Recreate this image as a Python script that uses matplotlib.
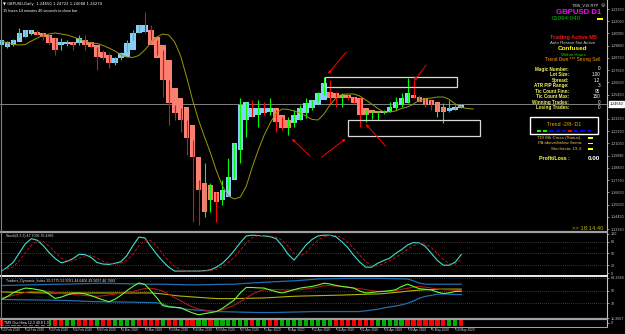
import matplotlib
matplotlib.use("Agg")
import matplotlib.pyplot as plt
from matplotlib.patches import Rectangle
from matplotlib.lines import Line2D

# ---- data ----
ha_open = [1.2995, 1.2977, 1.2995, 1.3022, 1.3067, 1.3094, 1.3112, 1.3103, 1.3085, 1.3058,
           1.2995, 1.3004, 1.3022, 1.3013, 1.3040, 1.3022, 1.2995, 1.2932, 1.2905, 1.2833,
           1.2878, 1.2887, 1.2950, 1.3103, 1.3112, 1.3130, 1.3067, 1.2995, 1.2860, 1.2608,
           1.2518, 1.2437, 1.2275, 1.1987, 1.1753, 1.1735, 1.1672, 1.1600, 1.1627, 1.1780,
           1.2050, 1.2320, 1.2347, 1.2365, 1.2383, 1.2392, 1.2428, 1.2365, 1.2320, 1.2293,
           1.2320, 1.2383, 1.2428, 1.2455, 1.2500, 1.2572, 1.2563, 1.2545, 1.2545, 1.2527,
           1.2518, 1.2428, 1.2410, 1.2401, 1.2383, 1.2392, 1.2428, 1.2455, 1.2473, 1.2545,
           1.2527, 1.2518, 1.2500, 1.2482, 1.2437, 1.2401, 1.2410, 1.2428]
ha_close = [1.3040, 1.3022, 1.3040, 1.3103, 1.3130, 1.3130, 1.3085, 1.3067, 1.3013, 1.2950,
            1.3022, 1.3022, 1.2995, 1.3058, 1.2995, 1.2977, 1.2887, 1.2878, 1.2833, 1.2878,
            1.2923, 1.3013, 1.3103, 1.3175, 1.3175, 1.2995, 1.2878, 1.2680, 1.2473, 1.2383,
            1.2320, 1.2158, 1.1987, 1.1690, 1.1492, 1.1600, 1.1582, 1.1690, 1.1807, 1.2113,
            1.2455, 1.2482, 1.2428, 1.2428, 1.2428, 1.2428, 1.2302, 1.2248, 1.2248, 1.2365,
            1.2428, 1.2473, 1.2500, 1.2563, 1.2653, 1.2518, 1.2518, 1.2518, 1.2518, 1.2473,
            1.2365, 1.2365, 1.2383, 1.2383, 1.2401, 1.2437, 1.2482, 1.2518, 1.2563, 1.2518,
            1.2482, 1.2455, 1.2455, 1.2392, 1.2392, 1.2428, 1.2437, 1.2455]
bar_high = [1.3058, 1.3031, 1.3049, 1.3148, 1.3130, 1.3130, 1.3130, 1.3103, 1.3085, 1.3058,
            1.3058, 1.3040, 1.3022, 1.3085, 1.3085, 1.3022, 1.2977, 1.2950, 1.2923, 1.2887,
            1.2932, 1.3040, 1.3130, 1.3175, 1.3292, 1.3175, 1.3040, 1.2950, 1.2680, 1.2455,
            1.2428, 1.2320, 1.2140, 1.1780, 1.1933, 1.1753, 1.1672, 1.1780, 1.1978, 1.2113,
            1.2518, 1.2482, 1.2500, 1.2500, 1.2482, 1.2518, 1.2410, 1.2347, 1.2347, 1.2410,
            1.2455, 1.2518, 1.2500, 1.2572, 1.2707, 1.2680, 1.2572, 1.2563, 1.2545, 1.2527,
            1.2518, 1.2410, 1.2410, 1.2401, 1.2410, 1.2482, 1.2527, 1.2563, 1.2698, 1.2680,
            1.2545, 1.2518, 1.2500, 1.2482, 1.2473, 1.2500, 1.2455, 1.2455]
bar_low = [1.2932, 1.2968, 1.2986, 1.3067, 1.3067, 1.3085, 1.3085, 1.3040, 1.2995, 1.2905,
           1.2950, 1.2986, 1.2950, 1.2995, 1.2950, 1.2968, 1.2770, 1.2860, 1.2788, 1.2815,
           1.2860, 1.2932, 1.3040, 1.3103, 1.3103, 1.3040, 1.2905, 1.2527, 1.2275, 1.2320,
           1.2212, 1.2005, 1.1402, 1.1375, 1.1447, 1.1492, 1.1402, 1.1555, 1.1690, 1.1798,
           1.1933, 1.2167, 1.2347, 1.2257, 1.2365, 1.2365, 1.2212, 1.2230, 1.2185, 1.2257,
           1.2320, 1.2338, 1.2410, 1.2482, 1.2545, 1.2473, 1.2437, 1.2437, 1.2500, 1.2473,
           1.2257, 1.2302, 1.2329, 1.2320, 1.2374, 1.2392, 1.2410, 1.2437, 1.2473, 1.2518,
           1.2482, 1.2437, 1.2410, 1.2347, 1.2293, 1.2392, 1.2410, 1.2428]
bar_up = "GGGGGGRRRRGGRGRRRRRGGGGGRRRRRRRRRRGGRGGGGGRGRGRRGGGGGGGRRGRRRGGGGGGGGRRRRGGGG"
bar_up += "G"
ma_line = [1.3031, 1.3013, 1.3000, 1.2995, 1.3000, 1.3031, 1.3058, 1.3081, 1.3094, 1.3103,
           1.3094, 1.3085, 1.3067, 1.3049, 1.3027, 1.3013, 1.3009, 1.2991, 1.2968, 1.2941,
           1.2905, 1.2887, 1.2883, 1.2901, 1.2950, 1.3013, 1.3067, 1.3094, 1.3085, 1.3022,
           1.2896, 1.2707, 1.2500, 1.2320, 1.2167, 1.2023, 1.1861, 1.1726, 1.1636, 1.1609,
           1.1627, 1.1726, 1.1897, 1.2050, 1.2185, 1.2293, 1.2383, 1.2419, 1.2415, 1.2401,
           1.2383, 1.2356, 1.2325, 1.2320, 1.2374, 1.2455, 1.2518, 1.2550, 1.2554, 1.2554,
           1.2536, 1.2500, 1.2464, 1.2424, 1.2392, 1.2392, 1.2401, 1.2424, 1.2437, 1.2464,
           1.2500, 1.2514, 1.2518, 1.2527, 1.2527, 1.2505, 1.2464, 1.2433, 1.2424, 1.2419]
bid_price = 1.2464

stoch_main = [5, 15, 28, 52, 75, 88, 84, 70, 52, 37, 26, 30, 37, 48, 47, 40, 27, 23, 22, 25,
              29, 45, 70, 92, 90, 68, 48, 30, 15, 5, 5, 5, 5, 5, 6, 8, 15, 25, 40, 58,
              78, 95, 97, 96, 95, 93, 88, 70, 48, 33, 52, 72, 86, 95, 97, 97, 93, 80, 65, 45,
              28, 15, 15, 25, 32, 38, 50, 60, 72, 78, 77, 68, 50, 32, 20, 20, 28, 47.7]
stoch_signal = [8, 10, 16, 32, 52, 72, 82, 81, 69, 53, 38, 31, 31, 38, 44, 45, 38, 30, 24, 23,
                25, 33, 48, 69, 84, 83, 69, 49, 31, 17, 8, 5, 5, 5, 5, 6, 10, 16, 27, 41,
                59, 77, 90, 96, 96, 95, 92, 84, 69, 50, 44, 52, 70, 84, 93, 96, 96, 90, 79, 63,
                46, 29, 19, 18, 24, 32, 40, 49, 61, 70, 76, 74, 65, 50, 34, 24, 23, 35.4]

tdi_upper = [57.3, 57.5, 57.7, 57.9, 58.1, 58.3, 58.5, 58.7, 58.9, 59.1,
             59.2, 59.4, 59.6, 59.8, 60.0, 60.2, 60.4, 60.6, 60.4, 60.2,
             60.0, 59.8, 59.6, 59.4, 59.2, 59.2, 59.2, 59.2, 59.0, 58.8,
             58.6, 58.4, 58.3, 58.3, 58.5, 58.7, 58.9, 59.0, 59.1, 59.2,
             59.8, 60.4, 61.0, 61.5, 62.0, 62.4, 62.8, 63.2, 63.6, 64.0,
             64.6, 65.2, 66.0, 66.6, 66.8, 67.0, 67.2, 67.4, 67.5, 67.6,
             67.6, 67.6, 67.6, 67.6, 67.4, 67.2, 67.0, 66.8, 66.6, 64.0,
             60.6, 59.2, 59.2, 59.2, 59.2, 59.2, 59.2, 59.2]
tdi_lower = [37.5, 37.4, 37.3, 37.2, 37.1, 37.0, 36.9, 36.8, 36.6, 36.4,
             36.3, 36.2, 35.8, 35.4, 35.0, 34.7, 34.5, 34.3, 34.2, 34.1,
             34.0, 33.9, 33.8, 33.6, 33.4, 33.2, 32.9, 31.0, 28.0, 26.5,
             25.0, 23.7, 23.0, 22.4, 21.8, 21.2, 20.5, 20.3, 20.1, 19.9,
             19.7, 19.5, 19.3, 19.1, 19.1, 19.1, 19.2, 19.4, 19.6, 19.8,
             20.0, 20.2, 20.4, 20.5, 20.5, 20.5, 20.5, 20.5, 20.5, 20.5,
             20.5, 21.5, 22.8, 23.7, 25.5, 27.0, 28.3, 30.0, 32.3, 35.5,
             39.5, 42.0, 43.5, 45.0, 45.4, 45.0, 44.6, 44.5]
tdi_base = [48.2, 48.0, 47.8, 47.6, 47.4, 47.2, 47.0, 46.9, 46.8, 46.8,
            46.8, 46.8, 46.8, 46.8, 46.8, 46.8, 46.8, 46.8, 46.8, 46.8,
            46.8, 46.8, 46.8, 46.8, 46.8, 46.8, 46.2, 45.4, 44.4, 43.2,
            42.4, 41.8, 41.2, 40.6, 40.0, 39.4, 38.9, 38.8, 38.8, 38.9,
            39.0, 39.2, 39.4, 39.6, 39.8, 40.2, 40.7, 41.2, 41.7, 42.1,
            42.4, 42.6, 42.8, 43.0, 43.2, 43.4, 43.6, 43.8, 44.1, 44.4,
            44.7, 45.0, 45.2, 45.4, 46.0, 46.8, 47.6, 48.4, 49.4, 50.2,
            50.8, 51.3, 51.7, 52.0, 52.3, 52.3, 52.3, 52.3]
tdi_rsi = [37.5, 42, 47, 51, 53.7, 53, 51.5, 50, 45, 39, 41, 44, 46.5, 46.5, 45.5, 43, 40, 37, 34.3, 38,
           43.5, 50, 56, 61, 59, 50, 40, 29, 27, 26.5, 26, 22, 18.5, 16, 17.5, 19, 20.5, 25, 31, 37,
           47, 54.6, 54.5, 54, 53.7, 51, 48.5, 46.8, 49, 51.5, 53.7, 55, 56, 58, 60.6, 59.5, 57.5, 56,
           55, 53.7, 49.5, 46.8, 47.5, 48.5, 49.1, 50, 51.4, 56, 59.3, 56, 52.8, 52, 51, 48, 46, 47,
           49, 49.1]
tdi_signal = [39.8, 41.5, 43.5, 45.5, 47.5, 49, 49.1, 49.1, 49.1, 47.5, 46, 45.2, 44.6, 44, 43.2,
              42.6, 42.1, 42.8, 44, 45.2, 46.4, 48, 49.1, 51, 53, 53.5, 52, 49.5, 45, 40, 36, 31,
              27, 24, 22.5, 21, 20.5, 23, 26, 29.5, 34.5, 40, 45, 49, 51.4, 51.5, 51.4, 51.2, 51,
              51.2, 51.4, 52.5, 53.7, 55, 57, 57.2, 56.5, 56, 55, 53.8, 52.8, 51.5, 50, 49.1, 49,
              49, 50, 52, 53.5, 55, 56, 55, 53.8, 52.5, 51.4, 51, 50.5, 50]

osc_state = "rrggrrgggrrggrrrgrrggggrrrrgrrgrrggrggggggrggrrgggggggggrrrrrrrgggggrrrrrrrg"
osc_state += "g"

date_labels = ["10 Feb 2020", "14 Feb 2020", "19 Feb 2020", "24 Feb 2020", "28 Feb 2020",
               "4 Mar 2020", "9 Mar 2020", "13 Mar 2020", "18 Mar 2020", "23 Mar 2020",
               "27 Mar 2020", "1 Apr 2020", "6 Apr 2020", "12 Apr 2020", "16 Apr 2020",
               "21 Apr 2020", "26 Apr 2020", "30 Apr 2020", "5 May 2020", "10 May 2020"]
price_ticks = [1.3319, 1.3209, 1.3099, 1.2989, 1.2879, 1.2769, 1.2659, 1.2549, 1.2439, 1.2329,
               1.2219, 1.2109, 1.1999, 1.1889, 1.1779, 1.1669, 1.1559, 1.1449, 1.1339]

# drawn markup on the chart: (bar_from, bar_to, price_top, price_bottom)
zones = [(54.2, 76.3, 1.2707, 1.2617), (58.1, 80.2, 1.2320, 1.2176)]
# arrows: (tail_bar, tail_price, head_bar, head_price)
arrows = [(58.0, 1.2950, 54.4, 1.2716), (71.4, 1.2833, 68.8, 1.2653),
          (52.0, 1.1978, 48.3, 1.2167), (53.2, 1.1969, 58.0, 1.2167),
          (64.6, 1.2068, 60.7, 1.2302)]

info_labels = ["Magic Number:", "Lot Size:", "Spread:", "ATR PIP Range:", "Tic Count Finn:",
               "Tic Count Max:", "Winning Trades:", "Losing Trades:"]
info_values = ["0", "1.00", "1.2", "3", "95", "150", "0", "0"]
trend_dashes = ["#00ff00", "#00ff00", "#0000ff", "#0000ff", "#0000ff", "#ff0000",
                "#0000ff", "#0000ff", "#0000ff"]
status_labels = ["TDI Mh Cross (Status):", "PA above/below Sema:", "Stochastic 19,3:"]

# ---- layout ----
W, H = 625, 334
plt.rcParams["font.family"] = ["Liberation Sans", "DejaVu Sans"]
fig = plt.figure(figsize=(W / 100, H / 100), dpi=100, facecolor="black")


def rect(x0, y0, x1, y1):
    return [x0 / W, 1 - y1 / H, (x1 - x0) / W, (y1 - y0) / H]


def ftext(x, y, s, **kw):
    kw.setdefault("va", "center")
    fig.text(x / W, 1 - y / H, s, **kw)


XL = (-0.25, 101.4)
axis_col = "#c0c0c0"


def style(ax):
    ax.set_facecolor("black")
    ax.set_xlim(*XL)
    ax.set_xticks([])
    for s in ["top", "left", "bottom"]:
        ax.spines[s].set_visible(False)
    ax.spines["right"].set_color(axis_col)
    ax.spines["right"].set_linewidth(0.8)
    ax.yaxis.tick_right()
    ax.tick_params(axis="y", colors=axis_col, labelsize=2.7, length=1.5, width=0.5, pad=1)


idx = list(range(len(ha_open)))

# main price panel
ax = fig.add_axes(rect(0, 0, 607, 231))
style(ax)
ax.set_ylim(1.1321, 1.34)
ax.set_yticks(price_ticks)
ax.set_yticklabels([f"{t:.5f}" for t in price_ticks])
ax.axhline(bid_price, color="#808080", lw=0.7, zorder=1)
body_cols = ["#87cefa" if c >= o else "#fa8072" for o, c in zip(ha_open, ha_close)]
ax.bar(idx, [c - o for o, c in zip(ha_open, ha_close)], bottom=ha_open, width=0.95,
       color=body_cols, linewidth=0, zorder=2)
ax.vlines(idx, bar_low, bar_high, colors=["#00ff00" if u == "G" else "#ff0000" for u in bar_up],
          lw=0.8, zorder=3)
ax.plot(range(len(ma_line)), ma_line, color="#9a9a00", lw=0.7, zorder=4)
for b0, b1, p0, p1 in zones:
    ax.add_patch(Rectangle((b0, p1), b1 - b0, p0 - p1, fill=False, ec="#d8d8d8", lw=0.9, zorder=5))
for tb, tp, hb, hp in arrows:
    ax.annotate("", xy=(hb, hp), xytext=(tb, tp),
                arrowprops=dict(arrowstyle="-|>", color="#ff0000", lw=0.7, mutation_scale=4),
                zorder=6)
ax.text(1.004, (bid_price - 1.1321) / (1.34 - 1.1321), f"{bid_price:.5f}", transform=ax.transAxes,
        fontsize=2.7, color="black", va="center", ha="left",
        bbox=dict(boxstyle="square,pad=0.15", fc="white", ec="white"), zorder=7)

# stochastic panel
axs = fig.add_axes(rect(0, 232, 607, 275))
style(axs)
axs.set_ylim(-5.1, 105.1)
axs.set_yticks([0, 20, 50, 80, 100])
for lv in (20, 50, 80):
    axs.axhline(lv, color="#707070", lw=0.5, ls=(0, (1, 2)))
axs.plot(idx, stoch_main, color="#40e0d0", lw=0.8)
axs.plot(idx, stoch_signal, color="#c01010", lw=0.7, ls=(0, (3, 2)))
axs.text(0.01, 0.9, "Stoch(8,3,3) 47.7036 35.4366", transform=axs.transAxes,
         fontsize=2.6, color="#e0e0e0", va="center")

# TDI panel
axt = fig.add_axes(rect(0, 277, 607, 318))
style(axt)
axt.set_ylim(12.6, 69.4)
axt.set_yticks([11.3667, 32, 50, 68.3384])
axt.set_yticklabels(["11.3667", "32", "50", "68.3384"])
for lv in (32, 50, 68):
    axt.axhline(lv, color="#707070", lw=0.5, ls=(0, (1, 2)))
axt.plot(idx, tdi_upper, color="#1f6fb0", lw=0.9)
axt.plot(idx, tdi_lower, color="#1f6fb0", lw=0.9)
axt.plot(idx, tdi_base, color="#b4b400", lw=0.8)
axt.plot(idx, tdi_signal, color="#b01818", lw=0.8)
axt.plot(idx, tdi_rsi, color="#66ff33", lw=0.8)
axt.text(0.01, 0.9, "Traders_Dynamic_Index 39.2775 52.5081 44.6406 49.5697 46.7882",
         transform=axt.transAxes, fontsize=2.6, color="#e0e0e0", va="center")

# oscillator strip
axo = fig.add_axes(rect(0, 319, 607, 326))
style(axo)
axo.set_ylim(0, 1)
axo.set_yticks([0.5])
axo.set_yticklabels(["0"])
axo.bar(idx, [1.0] * len(idx), width=0.7,
        color=["#00b000" if s == "g" else "#ff0000" for s in osc_state])
axo.text(0.006, 0.5, "TMS Osc Hma 12.3 49.8 1.0", transform=axo.transAxes, fontsize=2.5,
         color="white", va="center", bbox=dict(boxstyle="square,pad=0.1", fc="black", ec="none"))

# separators and borders
for yy, col, lw in [(231.5, "#a0a0a0", 1.6), (276, "#ffffff", 1.3), (318.5, "#a0a0a0", 1.6)]:
    fig.add_artist(Line2D([0, 607 / W], [1 - yy / H] * 2, color=col, lw=lw))
fig.add_artist(Line2D([0.6 / W] * 2, [1 - 326 / H, 1], color="#808080", lw=0.8))
fig.add_artist(Line2D([0, 607 / W], [1 - 326.5 / H] * 2, color=axis_col, lw=0.6))

# date axis
for k, lab in enumerate(date_labels):
    xpx = (4 * k - XL[0]) / (XL[1] - XL[0]) * 607
    fig.add_artist(Line2D([xpx / W] * 2, [1 - 326.5 / H, 1 - 328.5 / H], color=axis_col, lw=0.5))
    ftext(xpx + 1, 330, lab, fontsize=2.35, color="#d0d0d0", ha="left")

# header text
ftext(3, 4.5, "\u25bc GBPUSD,Daily  1.24650 1.24722 1.24088 1.24274", fontsize=2.7,
      color="white", ha="left", family=["DejaVu Sans"])
ftext(3, 10.5, "15 hours 14 minutes 40 seconds to close bar", fontsize=2.7,
      color="white", ha="left")

# info panel
ftext(598, 5, "TMS_V19 RTP", fontsize=2.8, color="#e0e0e0", ha="right")
ftext(603, 5, "\u263a", fontsize=3.2, color="#e0e0e0", ha="center", family=["DejaVu Sans"])
ftext(601, 12.5, "GBPUSD D1", fontsize=5.6, color="#ff00ff", ha="right", weight="bold")
ftext(552, 18.5, "01094:040", fontsize=4.4, color="#00c000", ha="left")
fig.add_artist(Rectangle((597 / W, 1 - 19.6 / H), 6 / W, 1.2 / H, transform=fig.transFigure,
                         fc="#ffff00", ec="none"))
ftext(573, 38, "Trading Active M5", fontsize=4.0, color="#ff1010", ha="center", weight="bold")
ftext(573, 43.5, "Auto Restart Not Active", fontsize=3.2, color="#c8c8c8", ha="center")
ftext(573, 49, "Confused", fontsize=4.6, color="#ffff00", ha="center", weight="bold")
ftext(573, 54.5, "Within Hours", fontsize=3.2, color="#00e000", ha="center")
ftext(573, 60, "Trend Dwn *** Strong Sell", fontsize=3.4, color="#ff9900", ha="center")
for k, (lab, val) in enumerate(zip(info_labels, info_values)):
    yy = 69 + 5.55 * k
    ftext(569, yy, lab, fontsize=3.3, color="#f0f060", ha="right", weight="bold")
    ftext(600, yy, val, fontsize=3.3, color="white", ha="right")

fig.add_artist(Rectangle((530 / W, 1 - 134.5 / H), 68 / W, 17.5 / H, transform=fig.transFigure,
                         fill=False, ec="white", lw=1.0))
ftext(564, 124.5, "Trend -2/8- D1", fontsize=3.8, color="#ffa500", ha="center")
for k, col in enumerate(trend_dashes):
    fig.add_artist(Rectangle(((537 + 6.2 * k) / W, 1 - 131.8 / H), 4.2 / W, 1.4 / H,
                             transform=fig.transFigure, fc=col, ec="none"))
for k, lab in enumerate(status_labels):
    yy = 138 + 5.5 * k
    ftext(582, yy, lab, fontsize=3.2, color="#e8c060", ha="right")
    fig.add_artist(Rectangle((588 / W, 1 - (yy + 0.8) / H), 5 / W, 1.6 / H,
                             transform=fig.transFigure, fc="#ffff00", ec="none"))
ftext(570, 159, "Profit/Loss :", fontsize=3.8, color="#ffff40", ha="right", weight="bold")
ftext(600, 159, "0.00", fontsize=4.6, color="white", ha="right", weight="bold")
ftext(603, 228, ">> 18:14:40", fontsize=4.2, color="#b4b400", ha="right")

fig.savefig("out.png", dpi=100, facecolor="black")
